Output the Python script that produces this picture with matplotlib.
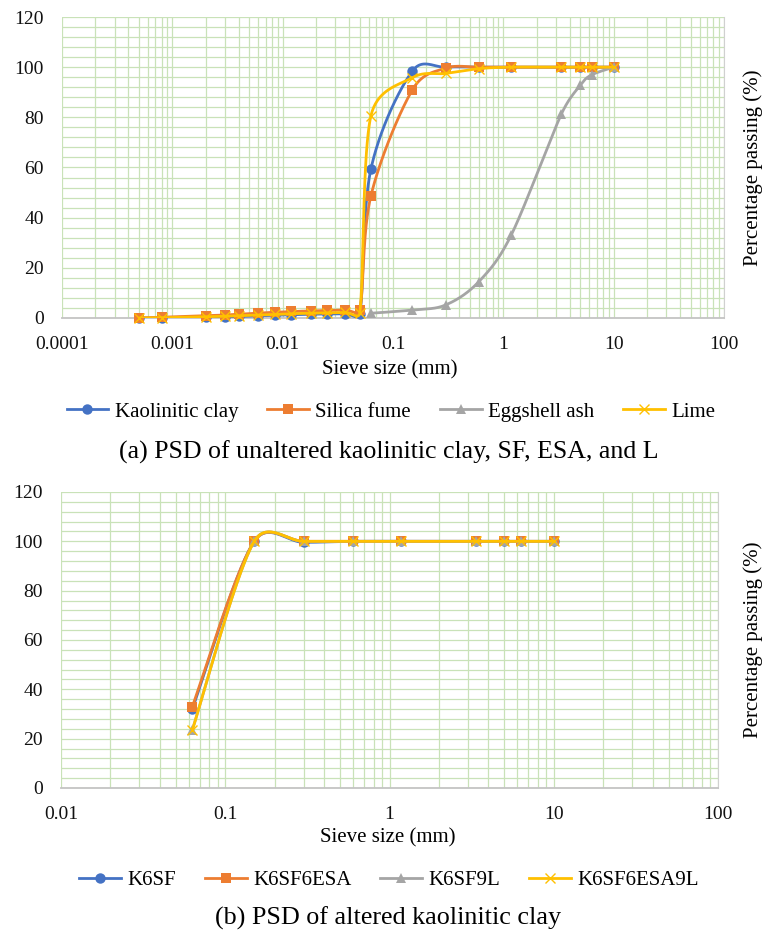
import numpy as np
import matplotlib
matplotlib.use('Agg')
import matplotlib.pyplot as plt
from matplotlib.lines import Line2D
from matplotlib.ticker import MultipleLocator, LogLocator, NullFormatter

plt.rcParams['font.family'] = ['Liberation Serif', 'DejaVu Serif']

# ---------------- data (a) ----------------
size_a = [0.0005, 0.0008, 0.002, 0.003, 0.004, 0.006, 0.0085, 0.012, 0.018, 0.025,
          0.037, 0.05, 0.063, 0.15, 0.3, 0.6, 1.18, 3.35, 5, 6.3, 10]
kaolinitic_clay = [0, 0, 0.3, 0.5, 0.6, 0.9, 1.1, 1.3, 1.5, 1.6,
                   1.7, 1.7, 59.3, 98.5, 100, 100, 100, 100, 100, 100, 100]
silica_fume = [0, 0.3, 0.9, 1.2, 1.5, 2.0, 2.3, 2.6, 2.8, 3.0,
               3.2, 3.3, 48.6, 91.0, 99.6, 100, 100, 100, 100, 100, 100]
lime = [0, 0.1, 0.5, 0.7, 0.9, 1.2, 1.4, 1.7, 1.9, 2.0,
        2.2, 2.0, 80.5, 95.8, 97.5, 99.4, 100, 100, 100, 100, 100]
size_esa = [0.063, 0.15, 0.3, 0.6, 1.18, 3.35, 5, 6.3, 10]
eggshell_ash = [1.9, 3.2, 5.2, 14.5, 33.1, 81.2, 92.9, 96.9, 100]

# ---------------- data (b) ----------------
size_b = [0.063, 0.15, 0.3, 0.6, 1.18, 3.35, 5, 6.3, 10]
k6sf = [32.0, 100, 99.6, 100, 100, 100, 100, 100, 100]
k6sf6esa = [33.0, 100, 100, 100, 100, 100, 100, 100, 100]
k6sf9l = [23.5, 100, 100, 100, 100, 100, 100, 100, 100]
k6sf6esa9l = [23.5, 100, 100, 100, 100, 100, 100, 100, 100]

xt_a = [0.0001, 0.001, 0.01, 0.1, 1, 10, 100]
xl_a = ['0.0001', '0.001', '0.01', '0.1', '1', '10', '100']
xt_b = [0.01, 0.1, 1, 10, 100]
xl_b = ['0.01', '0.1', '1', '10', '100']

BLUE, ORANGE, GRAY, GOLD = '#4472C4', '#ED7D31', '#A5A5A5', '#FFC000'
GRID = '#C9E2B8'

W, H = 765, 933
fig = plt.figure(figsize=(W / 100, H / 100), dpi=100)


def px_axes(l, t, r, b):
    return fig.add_axes([l / W, 1 - b / H, (r - l) / W, (b - t) / H])


def excel_smooth(ax, xs, ys, n=60):
    pts = ax.transData.transform(np.column_stack([xs, ys]).astype(float))
    N = len(pts)
    out = [pts[:1]]
    for i in range(N - 1):
        p1, p2 = pts[i], pts[i + 1]
        p0 = pts[i - 1] if i > 0 else p1
        p3 = pts[i + 2] if i + 2 < N else p2
        d02 = np.hypot(*(p2 - p0))
        d12 = np.hypot(*(p2 - p1))
        d13 = np.hypot(*(p3 - p1))
        f = 1 / 6
        f1 = f if (d02 / 6 < d12 / 2 or d02 == 0) else d12 / (2 * d02)
        f2 = f if (d13 / 6 < d12 / 2 or d13 == 0) else d12 / (2 * d13)
        c1 = p1 + f1 * (p2 - p0)
        c2 = p2 - f2 * (p3 - p1)
        t = np.linspace(0, 1, n)[1:, None]
        seg = ((1 - t) ** 3) * p1 + 3 * ((1 - t) ** 2) * t * c1 \
            + 3 * (1 - t) * (t ** 2) * c2 + (t ** 3) * p2
        out.append(seg)
    d = ax.transData.inverted().transform(np.vstack(out))
    return d[:, 0], d[:, 1]


def style_axes(ax, xlim, xt, xl):
    ax.set_xscale('log')
    ax.set_xlim(*xlim)
    ax.set_ylim(0, 120)
    ax.set_xticks(xt, labels=xl)
    ax.xaxis.set_minor_locator(LogLocator(base=10, subs=np.arange(2, 10)))
    ax.xaxis.set_minor_formatter(NullFormatter())
    ax.set_yticks(np.arange(0, 121, 20))
    ax.yaxis.set_minor_locator(MultipleLocator(4))
    ax.grid(which='both', color=GRID, lw=0.9)
    ax.set_axisbelow(True)
    ax.tick_params(which='both', length=0, labelsize=14, colors='#111111')
    ax.tick_params(axis='y', pad=13)
    ax.tick_params(axis='x', pad=13)
    for s in ['left', 'top']:
        ax.spines[s].set_visible(False)
    ax.spines['right'].set_color('#D0D0D0')
    ax.spines['bottom'].set_color('#C4C4C4')
    ax.spines['bottom'].set_linewidth(1.3)


def series(ax, xs, ys, color, marker, ms, mew=0, lw=2.0, z=3):
    sx, sy = excel_smooth(ax, xs, ys)
    ax.plot(sx, sy, color=color, lw=lw, zorder=z, solid_capstyle='round')
    if marker == 'x':
        ax.plot(xs, ys, ls='none', marker='x', ms=ms, mec=color, mew=1.0,
                zorder=z + 0.5, clip_on=False)
    else:
        ax.plot(xs, ys, ls='none', marker=marker, ms=ms, mfc=color, mec=color,
                mew=0, zorder=z + 0.5, clip_on=False)


def handle(color, marker, ms):
    if marker == 'x':
        return Line2D([], [], color=color, lw=2.0, marker='x', ms=ms, mec=color, mew=1.0)
    return Line2D([], [], color=color, lw=2.0, marker=marker, ms=ms, mfc=color, mec=color, mew=0)


# ---------------- chart (a) ----------------
ax1 = px_axes(62, 17, 724, 318)
style_axes(ax1, (1e-4, 100), xt_a, xl_a)
series(ax1, size_a, kaolinitic_clay, BLUE, 'o', 7.5, z=3)
series(ax1, size_a, silica_fume, ORANGE, 's', 6.5, z=4)
series(ax1, size_esa, eggshell_ash, GRAY, '^', 6.5, z=5)
series(ax1, size_a, lime, GOLD, 'x', 7.5, z=6)

fig.text(390 / W, 1 - 370 / H, 'Sieve size (mm)', ha='center', va='center', fontsize=15)
fig.text(753 / W, 1 - 168 / H, 'Percentage passing (%)', ha='center', va='center',
         rotation=90, fontsize=15)
leg_a = [handle(BLUE, 'o', 7.5), handle(ORANGE, 's', 6.5), handle(GRAY, '^', 6.5), handle(GOLD, 'x', 7.5)]
fig.legend(leg_a, ['Kaolinitic clay', 'Silica fume', 'Eggshell ash', 'Lime'],
           loc='center', bbox_to_anchor=(391 / W, 1 - 412 / H), ncol=4, frameon=False,
           fontsize=15, handlelength=2.0, handletextpad=0.3, columnspacing=1.4,
           numpoints=1, borderpad=0, borderaxespad=0)
fig.text(389 / W, 1 - 459 / H, '(a) PSD of unaltered kaolinitic clay, SF, ESA, and L',
         ha='center', va='baseline', fontsize=18.6)

# ---------------- chart (b) ----------------
ax2 = px_axes(61, 492, 718, 788)
style_axes(ax2, (0.01, 100), xt_b, xl_b)
series(ax2, size_b, k6sf, BLUE, 'o', 7.5, z=3)
series(ax2, size_b, k6sf6esa, ORANGE, 's', 6.5, z=4)
series(ax2, size_b, k6sf9l, GRAY, '^', 6.5, z=5)
series(ax2, size_b, k6sf6esa9l, GOLD, 'x', 7.5, z=6)

fig.text(388 / W, 1 - 838 / H, 'Sieve size (mm)', ha='center', va='center', fontsize=15)
fig.text(753 / W, 1 - 640 / H, 'Percentage passing (%)', ha='center', va='center',
         rotation=90, fontsize=15)
leg_b = [handle(BLUE, 'o', 7.5), handle(ORANGE, 's', 6.5), handle(GRAY, '^', 6.5), handle(GOLD, 'x', 7.5)]
fig.legend(leg_b, ['K6SF', 'K6SF6ESA', 'K6SF9L', 'K6SF6ESA9L'],
           loc='center', bbox_to_anchor=(389 / W, 1 - 880 / H), ncol=4, frameon=False,
           fontsize=15, handlelength=2.0, handletextpad=0.3, columnspacing=1.4,
           numpoints=1, borderpad=0, borderaxespad=0)
fig.text(388 / W, 1 - 925 / H, '(b) PSD of altered kaolinitic clay',
         ha='center', va='baseline', fontsize=18.8)

fig.savefig('out.png', dpi=100)
